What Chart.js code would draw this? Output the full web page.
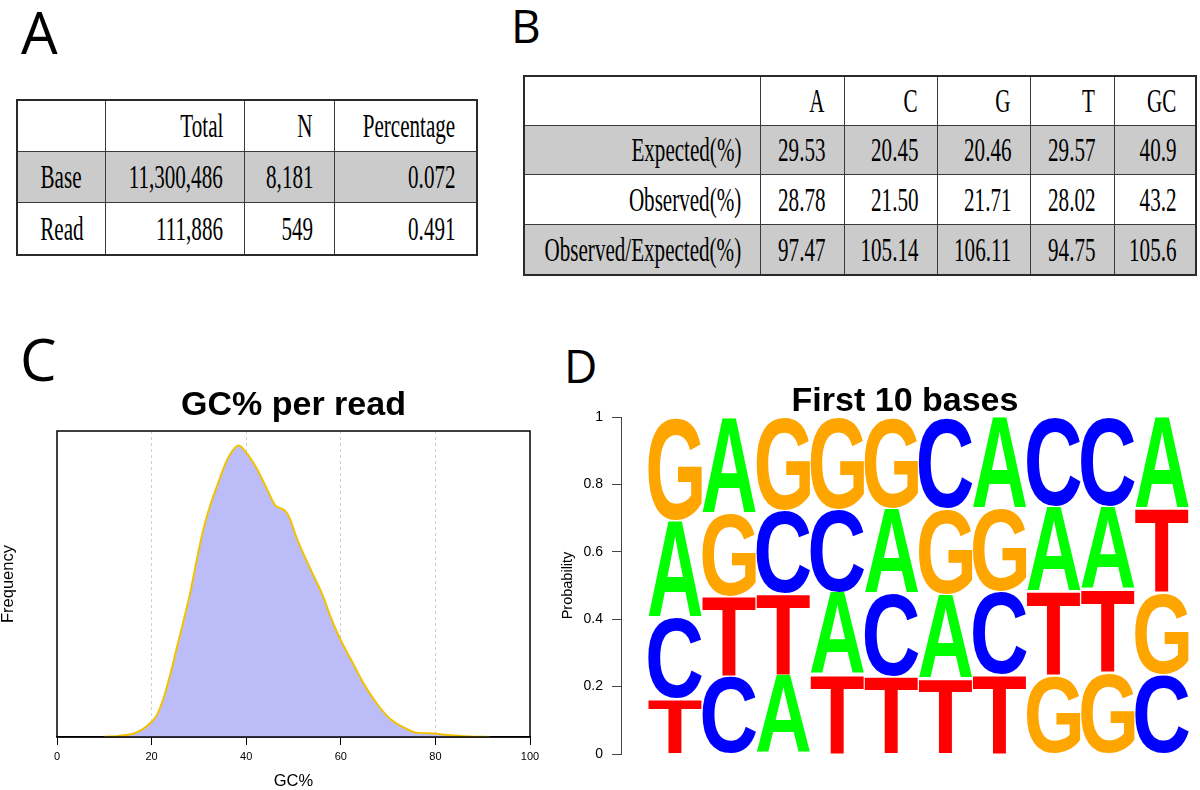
<!DOCTYPE html>
<html><head><meta charset="utf-8">
<script src="https://cdn.jsdelivr.net/npm/chart.js@4.4.1/dist/chart.umd.min.js"></script>
<style>
html,body{margin:0;padding:0;background:#fff;width:1200px;height:790px;overflow:hidden;position:relative}
.lbl{position:absolute;font-family:"Open Sans";line-height:1;color:#000;margin:0}
.tbl{position:absolute;display:grid;border:2px solid #2a2a2a;box-sizing:border-box}
.cell{display:flex;align-items:center;justify-content:flex-end;box-sizing:border-box;min-width:0;border-right:1.5px solid #3a3a3a;border-bottom:1.5px solid #3a3a3a;font-family:"Liberation Serif";font-size:34px;white-space:nowrap;overflow:visible;color:#000}
.cell span{display:inline-block;transform:scaleX(.62);transform-origin:100% 50%}
.cell.ctr{justify-content:center}
.cell.ctr span{transform-origin:50% 50%}
.cell.lastc{border-right:none}
.cell.lastr{border-bottom:none}
.grey{background:#cbcbcb}
canvas{position:absolute}
</style></head>
<body>
<div class="lbl" style="left:21px;top:3px;font-size:58px">A</div>
<div class="lbl" style="left:511px;top:2px;font-size:46px">B</div>
<div class="lbl" style="left:20px;top:330px;font-size:58px">C</div>
<div class="lbl" style="left:564px;top:342px;font-size:46px">D</div>

<div id="tableA" class="tbl" style="left:16px;top:99px;width:462px;height:157px;grid-template-columns:88px 139px 90px minmax(0,1fr);grid-template-rows:51px 51px minmax(0,1fr)"></div>
<div id="tableB" class="tbl" style="left:523px;top:75px;width:674px;height:201px;grid-template-columns:236px 84px 93px 93px 84px minmax(0,1fr);grid-template-rows:49px 49px 50px minmax(0,1fr)"></div>

<canvas id="chartC" width="560" height="410" style="left:0;top:380px"></canvas>
<canvas id="chartD" width="640" height="410" style="left:560px;top:380px"></canvas>

<script>
// ---------- Table A data ----------
const tableAColumns = ['', 'Total', 'N', 'Percentage'];
const tableARows = ['Base', 'Read'];
const tableATotal = ['11,300,486', '111,886'];
const tableAN = ['8,181', '549'];
const tableAPct = ['0.072', '0.491'];

// ---------- Table B data ----------
const tableBColumns = ['', 'A', 'C', 'G', 'T', 'GC'];
const tableBRows = ['Expected(%)', 'Observed(%)', 'Observed/Expected(%)'];
const expectedPct = ['29.53', '20.45', '20.46', '29.57', '40.9'];
const observedPct = ['28.78', '21.50', '21.71', '28.02', '43.2'];
const ratioPct = ['97.47', '105.14', '106.11', '94.75', '105.6'];

// ---------- Panel C data (GC% per read density) ----------
const gcX = [10,12.7,16.2,18.3,19.7,21.1,22.5,23.9,25.3,26.7,28.2,29.6,31,32.4,33.8,35.2,36.6,38.4,40.1,42.2,44.3,46.1,47.2,48.3,49.2,50.7,53.5,56.3,57.7,59.8,62.6,64.8,67.6,70.4,73.2,76,79.5,83.1,87.3,91.5];
const gcFreq = [0.001,0.003,0.012,0.029,0.048,0.075,0.132,0.212,0.304,0.395,0.498,0.613,0.716,0.796,0.859,0.922,0.970,1.0,0.974,0.922,0.854,0.796,0.785,0.775,0.75,0.682,0.579,0.481,0.418,0.338,0.252,0.184,0.115,0.063,0.034,0.015,0.012,0.006,0.002,0];
const gcTicks = [0, 20, 40, 60, 80, 100];

// ---------- Panel D data (first 10 bases) ----------
const positions = ['1','2','3','4','5','6','7','8','9','10'];
const probA = [0.286,0.285,0.235,0.244,0.253,0.250,0.271,0.253,0.247,0.271];
const probC = [0.243,0.232,0.245,0.245,0.246,0.272,0.246,0.265,0.265,0.235];
const probG = [0.307,0.247,0.279,0.275,0.271,0.254,0.248,0.232,0.242,0.243];
const probT = [0.164,0.236,0.241,0.236,0.230,0.224,0.235,0.250,0.246,0.251];
const probTicks = [0, 0.2, 0.4, 0.6, 0.8, 1];
const bases = ['A','C','G','T'];
const baseColors = {A:'#00ff00', C:'#0000ff', G:'#ffa500', T:'#ff0000'};

// ---------- Build tables ----------
function addCell(tbl, text, cls) {
  const d = document.createElement('div');
  d.className = 'cell ' + cls;
  const s = document.createElement('span');
  s.textContent = text;
  d.appendChild(s);
  tbl.appendChild(d);
}
(function buildA() {
  const t = document.getElementById('tableA');
  const nc = tableAColumns.length, nr = tableARows.length + 1;
  tableAColumns.forEach((c, j) => addCell(t, c, (j === nc-1 ? 'lastc ' : '') + (j === 0 ? 'ctr' : '')));
  tableARows.forEach((r, i) => {
    const g = i === 0 ? ' grey' : '';
    const lr = i === nr - 2 ? ' lastr' : '';
    const vals = [r, tableATotal[i], tableAN[i], tableAPct[i]];
    vals.forEach((v, j) => addCell(t, v, (j === 0 ? 'ctr' : '') + (j === nc-1 ? ' lastc' : '') + g + lr));
  });
  t.querySelectorAll('.cell').forEach(c => { if (!c.classList.contains('ctr')) c.style.paddingRight = '21px'; });
})();
(function buildB() {
  const t = document.getElementById('tableB');
  const nc = tableBColumns.length;
  const rows = [expectedPct, observedPct, ratioPct];
  tableBColumns.forEach((c, j) => addCell(t, c, j === nc-1 ? 'lastc' : ''));
  tableBRows.forEach((r, i) => {
    const g = (i % 2 === 0) ? ' grey' : '';
    const lr = i === tableBRows.length - 1 ? ' lastr' : '';
    [r].concat(rows[i]).forEach((v, j) => addCell(t, v, (j === nc-1 ? 'lastc' : '') + g + lr));
  });
  t.querySelectorAll('.cell').forEach(c => { c.style.paddingRight = '19px'; });
})();

// ---------- Plugins ----------
const areaTitle = {
  id: 'areaTitle',
  afterDraw(chart, args, opts) {
    const {ctx, chartArea} = chart;
    ctx.save();
    ctx.font = 'bold 34px "Liberation Sans"';
    ctx.fillStyle = '#000';
    ctx.textAlign = 'center';
    ctx.textBaseline = 'middle';
    ctx.fillText(opts.text, (chartArea.left + chartArea.right) / 2, chartArea.top - opts.offset);
    ctx.restore();
  }
};
const frame = {
  id: 'frame',
  afterDraw(chart) {
    const {ctx, chartArea: a} = chart;
    ctx.save();
    ctx.strokeStyle = '#000';
    ctx.lineWidth = 1.5;
    ctx.strokeRect(a.left, a.top, a.right - a.left, a.bottom - a.top);
    ctx.restore();
  }
};
const logoLetters = {
  id: 'logoLetters',
  afterDatasetsDraw(chart) {
    const ctx = chart.ctx;
    ctx.save();
    chart.data.datasets.forEach((ds, d) => {
      const meta = chart.getDatasetMeta(d);
      meta.data.forEach((bar, i) => {
        const p = bar.getProps(['x', 'y', 'base', 'width'], true);
        const letter = ds.letters[i];
        const top = Math.min(p.y, p.base) + 1, bottom = Math.max(p.y, p.base) - 0.5;
        const x0 = p.x - p.width / 2 + 0.3, x1 = p.x + p.width / 2 - 0.3;
        ctx.font = 'bold 200px "Liberation Sans"';
        const m = ctx.measureText(letter);
        const inkW = m.actualBoundingBoxLeft + m.actualBoundingBoxRight;
        const inkH = m.actualBoundingBoxAscent + m.actualBoundingBoxDescent;
        ctx.save();
        ctx.translate(x0, bottom);
        ctx.scale((x1 - x0) / inkW, (bottom - top) / inkH);
        ctx.fillStyle = baseColors[letter];
        ctx.textAlign = 'left';
        ctx.textBaseline = 'alphabetic';
        ctx.fillText(letter, m.actualBoundingBoxLeft, -m.actualBoundingBoxDescent);
        ctx.restore();
      });
    });
    ctx.restore();
  }
};

function init() {
  Chart.defaults.font.family = '"Liberation Sans"';
  Chart.defaults.color = '#000';

  // ----- Panel C -----
  new Chart(document.getElementById('chartC'), {
    type: 'line',
    data: {
      datasets: [{
        data: gcX.map((x, i) => ({x: x, y: gcFreq[i]})),
        borderColor: '#f2c200',
        borderWidth: 2,
        backgroundColor: '#bcbcf8',
        fill: 'origin',
        pointRadius: 0,
        cubicInterpolationMode: 'monotone'
      }]
    },
    options: {
      responsive: false, animation: false,
      layout: {padding: {top: 51, right: 30, left: 0, bottom: 0}},
      plugins: {legend: {display: false}, tooltip: {enabled: false}, areaTitle: {text: 'GC% per read', offset: 25}},
      scales: {
        x: {
          type: 'linear', min: gcTicks[0], max: gcTicks[gcTicks.length - 1],
          afterBuildTicks: s => { s.ticks = gcTicks.map(v => ({value: v})); },
          ticks: {color: '#000', font: {size: 11}, padding: 5, maxRotation: 0},
          grid: {
            color: c => (c.tick && (c.tick.value === 0 || c.tick.value === 100)) ? 'rgba(0,0,0,0)' : '#cfcfcf',
            lineWidth: 1, tickColor: '#000', tickLength: 8, tickWidth: 1, tickBorderDash: []
          },
          border: {display: true, color: '#000', width: 1.5, dash: [3, 3]},
          title: {display: true, text: 'GC%', font: {size: 16.5, lineHeight: 1}, padding: 0, color: '#000'},
          afterFit(s) { s.height = 53; }
        },
        y: {
          min: 0, max: 1.05,
          ticks: {display: false}, grid: {display: false}, border: {display: false},
          title: {display: true, text: 'Frequency', font: {size: 16.5, lineHeight: 1}, padding: 0, color: '#000'},
          afterFit(s) { s.width = 57; }
        }
      }
    },
    plugins: [areaTitle, frame]
  });

  // ----- Panel D -----
  const probs = {A: probA, C: probC, G: probG, T: probT};
  const order = positions.map((p, i) => bases.slice().sort((a, b) => probs[a][i] - probs[b][i]));
  const datasets = [0, 1, 2, 3].map(r => ({
    data: positions.map((p, i) => ({x: i + 1, y: probs[order[i][r]][i]})),
    letters: positions.map((p, i) => order[i][r]),
    backgroundColor: 'rgba(0,0,0,0)',
    borderWidth: 0,
    categoryPercentage: 1,
    barPercentage: 1
  }));
  new Chart(document.getElementById('chartD'), {
    type: 'bar',
    data: {datasets: datasets},
    options: {
      responsive: false, animation: false,
      layout: {padding: {top: 37, right: 11, bottom: 36, left: 0}},
      plugins: {legend: {display: false}, tooltip: {enabled: false}, areaTitle: {text: 'First 10 bases', offset: 15}},
      scales: {
        x: {type: 'linear', display: false, offset: false, min: 0, max: positions.length + 0.5, stacked: true, grid: {offset: false}},
        y: {
          stacked: true, min: 0, max: 1,
          afterBuildTicks: s => { s.ticks = probTicks.map(v => ({value: v})); },
          ticks: {color: '#000', font: {size: 14}, padding: 9, callback: v => String(v)},
          grid: {drawOnChartArea: false, drawTicks: true, tickLength: 9, tickColor: '#444', tickWidth: 1},
          border: {display: true, color: '#444', width: 1},
          title: {display: true, text: 'Probability', font: {size: 14.5, lineHeight: 1.1}, padding: 0, color: '#000'},
          afterFit(s) { s.width = 61; }
        }
      }
    },
    plugins: [logoLetters, areaTitle]
  });
}

Promise.all([
  document.fonts.load('bold 34px "Liberation Sans"'),
  document.fonts.load('14px "Liberation Sans"'),
  document.fonts.load('34px "Liberation Serif"'),
  document.fonts.load('58px "Open Sans"')
]).then(init, init);
</script>
</body></html>
